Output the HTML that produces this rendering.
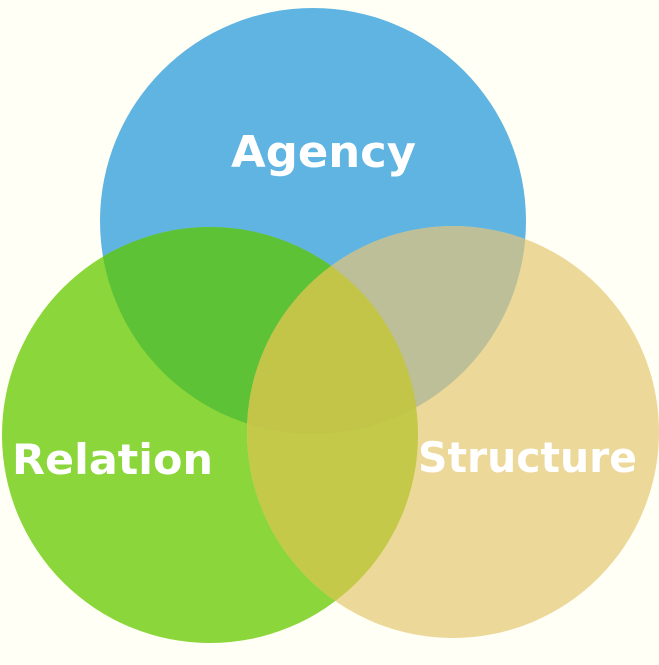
<!DOCTYPE html>
<html><head><style>html,body{margin:0;padding:0;background:#fffff5}</style></head>
<body>
<svg width="659" height="660" viewBox="0 0 659 660" xmlns="http://www.w3.org/2000/svg">
<defs>
<clipPath id="cb"><circle cx="313" cy="221" r="213"/></clipPath>
<clipPath id="cg"><circle cx="210" cy="435" r="208"/></clipPath>
</defs>
<rect width="659" height="660" fill="#fffff5"/>
<circle cx="313" cy="221" r="213" fill="#5fb4e2"/>
<circle cx="210" cy="435" r="208" fill="#8bd63a"/>
<circle cx="453" cy="432" r="206" fill="#ecd898"/>
<circle cx="210" cy="435" r="208" fill="#5dc236" clip-path="url(#cb)"/>
<circle cx="453" cy="432" r="206" fill="#bcbf98" clip-path="url(#cb)"/>
<circle cx="453" cy="432" r="206" fill="#c5c94a" clip-path="url(#cg)"/>
<g clip-path="url(#cb)"><circle cx="453" cy="432" r="206" fill="#c2c548" clip-path="url(#cg)"/></g>
<g font-family="'DejaVu Sans', 'Liberation Sans', sans-serif" font-weight="bold" fill="#ffffff">
<text x="231" y="167" font-size="44" textLength="185" lengthAdjust="spacingAndGlyphs">Agency</text>
<text x="12" y="474" font-size="42" textLength="201" lengthAdjust="spacingAndGlyphs">Relation</text>
<text x="418" y="472" font-size="42" textLength="219" lengthAdjust="spacingAndGlyphs">Structure</text>
</g>
</svg>
</body></html>
